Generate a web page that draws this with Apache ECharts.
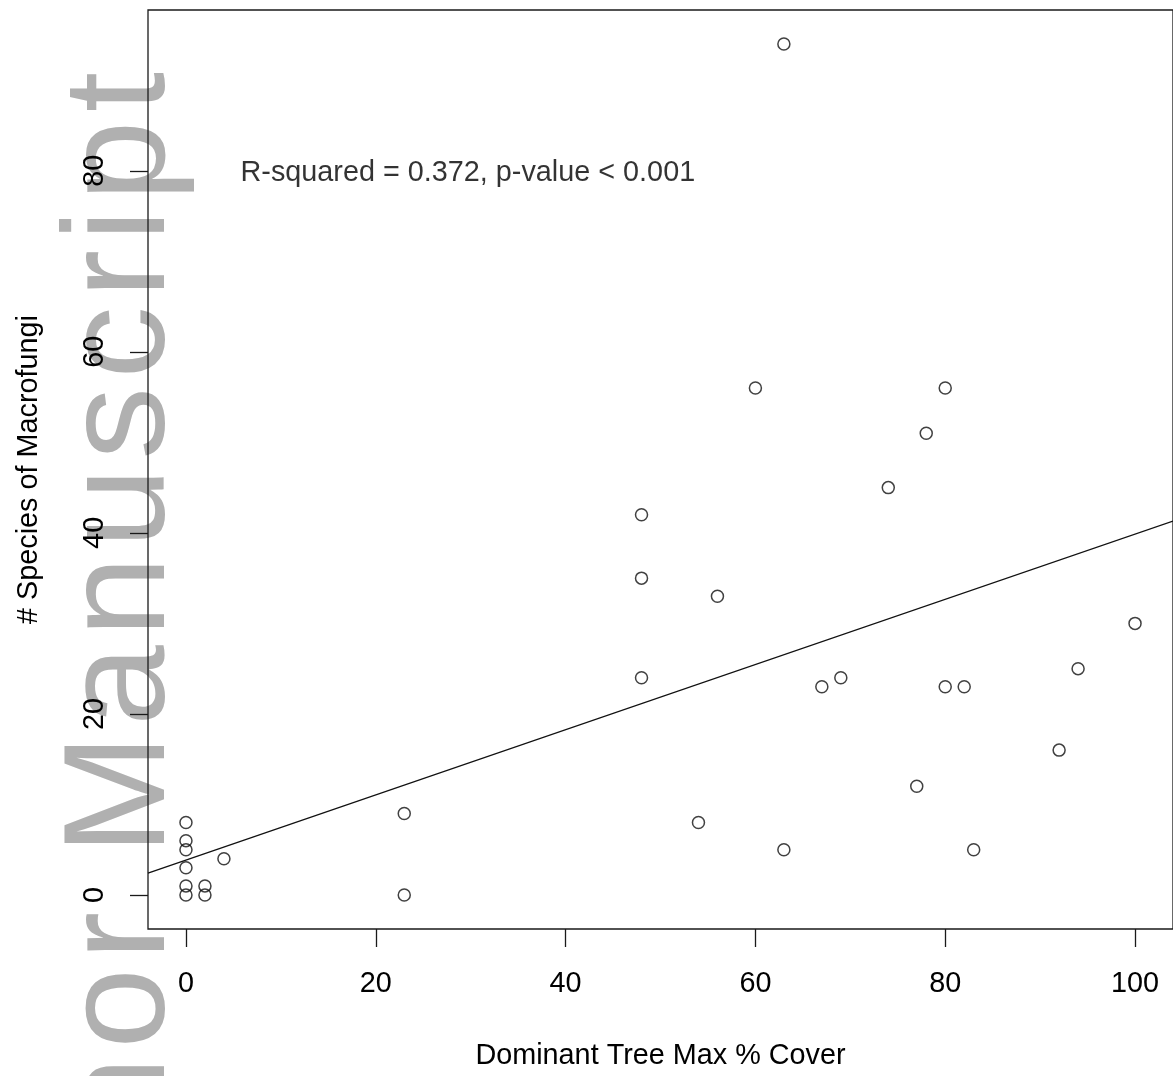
<!DOCTYPE html>
<html>
<head>
<meta charset="utf-8">
<script src="https://cdn.jsdelivr.net/npm/echarts@6/dist/echarts.min.js"></script>
<style>
html,body{margin:0;padding:0;background:#fff;}
#chart{width:1173px;height:1076px;}
</style>
</head>
<body>
<div id="chart"></div>
<script>
// Dominant tree max % cover (x) vs number of macrofungi species (y)
var coverX = [0,0,0,0,0,0,2,2,4,23,23,48,48,48,54,56,60,63,63,67,69,74,77,78,80,80,82,83,92,94,100];
var speciesY = [8,6,5,3,1,0,1,0,4,9,0,42,35,24,8,33,56,94,5,23,24,45,12,51,56,23,23,5,16,25,30];
// fitted line endpoints
var fitLine = [[-4, 2.4], [104, 41.3]];
var xTicks = [0,20,40,60,80,100];
var yTicks = [0,20,40,60,80];
var annotation = 'R-squared = 0.372, p-value < 0.001';
var annotationAt = [29.7, 79.8];
var xTitle = 'Dominant Tree Max % Cover';
var yTitle = '# Species of Macrofungi';
var watermark = 'Author Manuscript';

var FONT = 'Liberation Sans, Arial, sans-serif';
var FS = 28.8;
var points = coverX.map(function (x, i) { return [x, speciesY[i]]; });

// watermark: vertical, letter-spaced gray text behind the plot
var WM_FS = 145, WM_LS = 8.2, WM_END_Y = 72, WM_X = 123.6;
var mctx = document.createElement('canvas').getContext('2d');
mctx.font = WM_FS + 'px ' + FONT;
var chars = watermark.split('');
var widths = chars.map(function (c) { return mctx.measureText(c).width; });
var total = widths.reduce(function (a, b) { return a + b; }, 0) + WM_LS * (chars.length - 1);
var startY = WM_END_Y + total;
var wmElements = [];
var acc = 0;
chars.forEach(function (c, i) {
  if (c !== ' ') {
    wmElements.push({
      type: 'text',
      x: WM_X, y: startY - acc,
      rotation: Math.PI / 2,
      z: -10, silent: true,
      style: {text: c, fontSize: WM_FS, fontFamily: FONT, fill: '#b0b0b0',
        align: 'left', verticalAlign: 'middle'}
    });
  }
  acc += widths[i] + WM_LS;
});

var chart = echarts.init(document.getElementById('chart'), null, {renderer: 'canvas'});
chart.setOption({
  backgroundColor: '#ffffff',
  animation: false,
  graphic: wmElements,
  grid: {
    left: 148, top: 10, width: 1027, height: 920,
    show: true, borderColor: '#1a1a1a', borderWidth: 1.3,
    backgroundColor: 'transparent'
  },
  xAxis: {
    type: 'value', min: -4, max: 104,
    name: xTitle, nameLocation: 'middle', nameGap: 113,
    nameTextStyle: {fontSize: FS, fontFamily: FONT, color: '#000'},
    axisLine: {show: false, onZero: false},
    axisTick: {show: true, inside: false, length: 18, customValues: xTicks,
      lineStyle: {color: '#1a1a1a', width: 1.3}},
    axisLabel: {customValues: xTicks, margin: 41, fontSize: FS, fontFamily: FONT, color: '#000'},
    splitLine: {show: false}
  },
  yAxis: {
    type: 'value', min: -3.76, max: 97.76,
    name: yTitle, nameLocation: 'middle', nameGap: 104, nameRotate: 90,
    nameTextStyle: {fontSize: FS, fontFamily: FONT, color: '#000'},
    axisLine: {show: false, onZero: false},
    axisTick: {show: true, inside: false, length: 18, customValues: yTicks,
      lineStyle: {color: '#1a1a1a', width: 1.3}},
    axisLabel: {customValues: yTicks, rotate: 90, margin: 38, fontSize: FS, fontFamily: FONT, color: '#000'},
    splitLine: {show: false}
  },
  series: [
    {
      type: 'line',
      data: fitLine,
      showSymbol: false,
      symbol: 'none',
      lineStyle: {color: '#111', width: 1.3},
      z: 3
    },
    {
      type: 'scatter',
      data: points,
      symbol: 'circle',
      symbolSize: 12,
      itemStyle: {color: 'rgba(0,0,0,0)', borderColor: '#111', borderWidth: 1.5},
      z: 4
    },
    {
      type: 'scatter',
      data: [annotationAt],
      symbolSize: 0,
      itemStyle: {color: 'rgba(0,0,0,0)'},
      label: {
        show: true, position: 'inside',
        formatter: annotation,
        fontSize: FS, fontFamily: FONT, color: '#000'
      },
      z: 5
    }
  ]
});
</script>
</body>
</html>
